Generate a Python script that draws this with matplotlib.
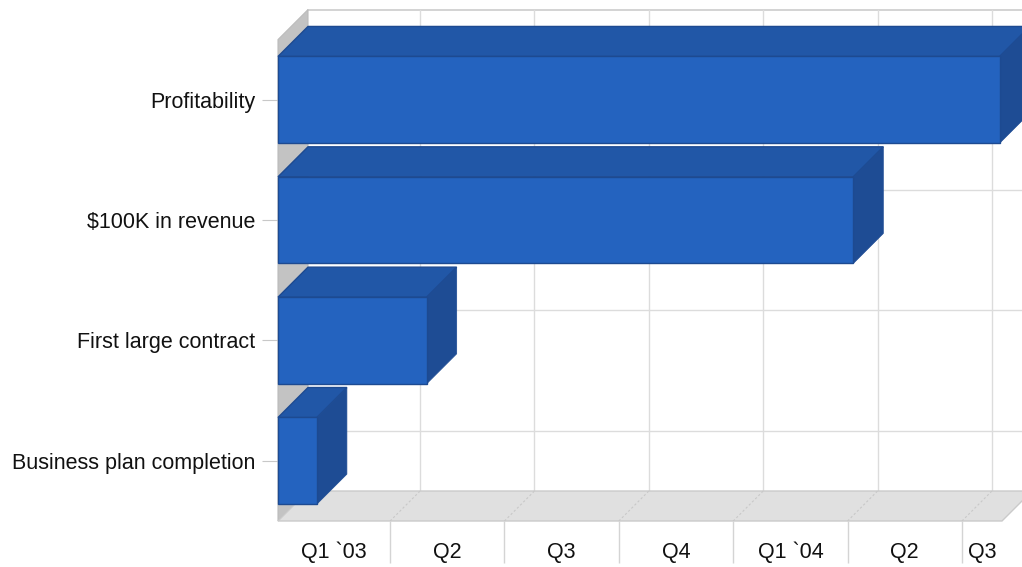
import matplotlib
matplotlib.use("Agg")
import matplotlib.pyplot as plt
from matplotlib.patches import Polygon
import numpy as np

# ---------------------------------------------------------
# DATA (x in quarters, counted from the start of Q1 `03)
# ---------------------------------------------------------

milestones = ["Business plan completion", "First large contract",
              "$100K in revenue", "Profitability"]
start_q = [0.02, 0.02, 0.02, 0.02]
end_q = [0.36, 1.32, 5.05, 6.33]
quarter_labels = ["Q1 `03", "Q2", "Q3", "Q4", "Q1 `04", "Q2", "Q3"]
quarter_ticks = [1, 2, 3, 4, 5, 6]

# ---------------------------------------------------------
# STYLE
# ---------------------------------------------------------

plt.rcParams['font.family'] = ['Liberation Sans', 'DejaVu Sans']
FRONT = "#2463BF"
TOP = "#2157A7"
SIDE = "#1E4C94"
EDGE = "#1D4A91"
GRID = "#DCDCDC"
WALL = "#C3C3C3"
FLOOR = "#E0E0E0"
DEPTH_PX = 30
XMIN, XMAX = 0.02, 6.35
YMIN, YMAX = -0.5, 3.5

fig = plt.figure(figsize=(10.22, 5.67), dpi=100)
ax = fig.add_axes([278 / 1022, 46 / 567, 724 / 1022, 481.4 / 567])
ax.set_xlim(XMIN, XMAX)
ax.set_ylim(YMIN, YMAX)
ax.patch.set_visible(False)
for s in ax.spines.values():
    s.set_visible(False)

# depth offset converted to data units
p0 = ax.transData.transform((0, 0))
dx, dy = ax.transData.inverted().transform(p0 + DEPTH_PX) - np.array([0, 0])

# ---------------------------------------------------------
# WALLS, FLOOR AND GRID
# ---------------------------------------------------------

ax.add_patch(Polygon([(XMIN, YMIN), (XMIN, YMAX), (XMIN + dx, YMAX + dy),
                      (XMIN + dx, YMIN + dy)], closed=True,
                     facecolor=WALL, edgecolor="#BBBBBB", lw=0.8,
                     clip_on=False, zorder=1))
ax.add_patch(Polygon([(XMIN, YMIN), (XMAX, YMIN), (XMAX + dx, YMIN + dy),
                      (XMIN + dx, YMIN + dy)], closed=True,
                     facecolor=FLOOR, edgecolor="#CACACA", lw=1,
                     clip_on=False, zorder=1))

# back wall top edge
ax.plot([XMIN + dx, XMAX + dx], [YMAX + dy, YMAX + dy], color="#CCCCCC",
        lw=1.2, clip_on=False, zorder=0.5)

for q in quarter_ticks:
    ax.plot([q + dx, q + dx], [YMIN + dy, YMAX + dy], color=GRID, lw=1,
            clip_on=False, zorder=0.5)
    ax.plot([q, q + dx], [YMIN, YMIN + dy], color="#C8C8C8", lw=0.8,
            ls=(0, (2, 2)), clip_on=False, zorder=1.5)

for i in range(len(milestones)):
    ax.plot([XMIN + dx, XMAX + dx], [i + dy, i + dy], color=GRID, lw=1,
            clip_on=False, zorder=0.5)

# ---------------------------------------------------------
# 3D BARS
# ---------------------------------------------------------

h = 0.72
for i, (s0, e0) in enumerate(zip(start_q, end_q)):
    z = 3 + i * 0.1
    y0, y1 = i - h / 2, i + h / 2
    ax.add_patch(Polygon([(s0, y1), (e0, y1), (e0 + dx, y1 + dy),
                          (s0 + dx, y1 + dy)], closed=True, facecolor=TOP,
                         edgecolor=EDGE, lw=1, clip_on=False, zorder=z))
    ax.add_patch(Polygon([(e0, y0), (e0, y1), (e0 + dx, y1 + dy),
                          (e0 + dx, y0 + dy)], closed=True, facecolor=SIDE,
                         edgecolor=SIDE, lw=0.5, clip_on=False, zorder=z))
    ax.barh(i, e0 - s0, left=s0, height=h, color=FRONT, edgecolor=EDGE,
            lw=1, zorder=z + 0.01, clip_on=False)

# ---------------------------------------------------------
# AXES LABELS
# ---------------------------------------------------------

ax.set_yticks(range(len(milestones)), milestones)
ax.tick_params(axis='y', length=11.5, color="#C8C8C8", pad=5,
               labelsize=15.5, labelcolor="#111111")

bounds = [XMIN] + quarter_ticks + [XMAX]
mids = [(a + b) / 2 for a, b in zip(bounds[:-1], bounds[1:])]
ax.set_xticks(quarter_ticks, [""] * len(quarter_ticks))
ax.set_xticks(mids, quarter_labels, minor=True)
ax.tick_params(axis='x', which='major', length=30, color="#D4D4D4", width=1)
ax.tick_params(axis='x', which='minor', length=0, pad=15,
               labelsize=15.5, labelcolor="#111111")

fig.savefig("out.png", dpi=100)
